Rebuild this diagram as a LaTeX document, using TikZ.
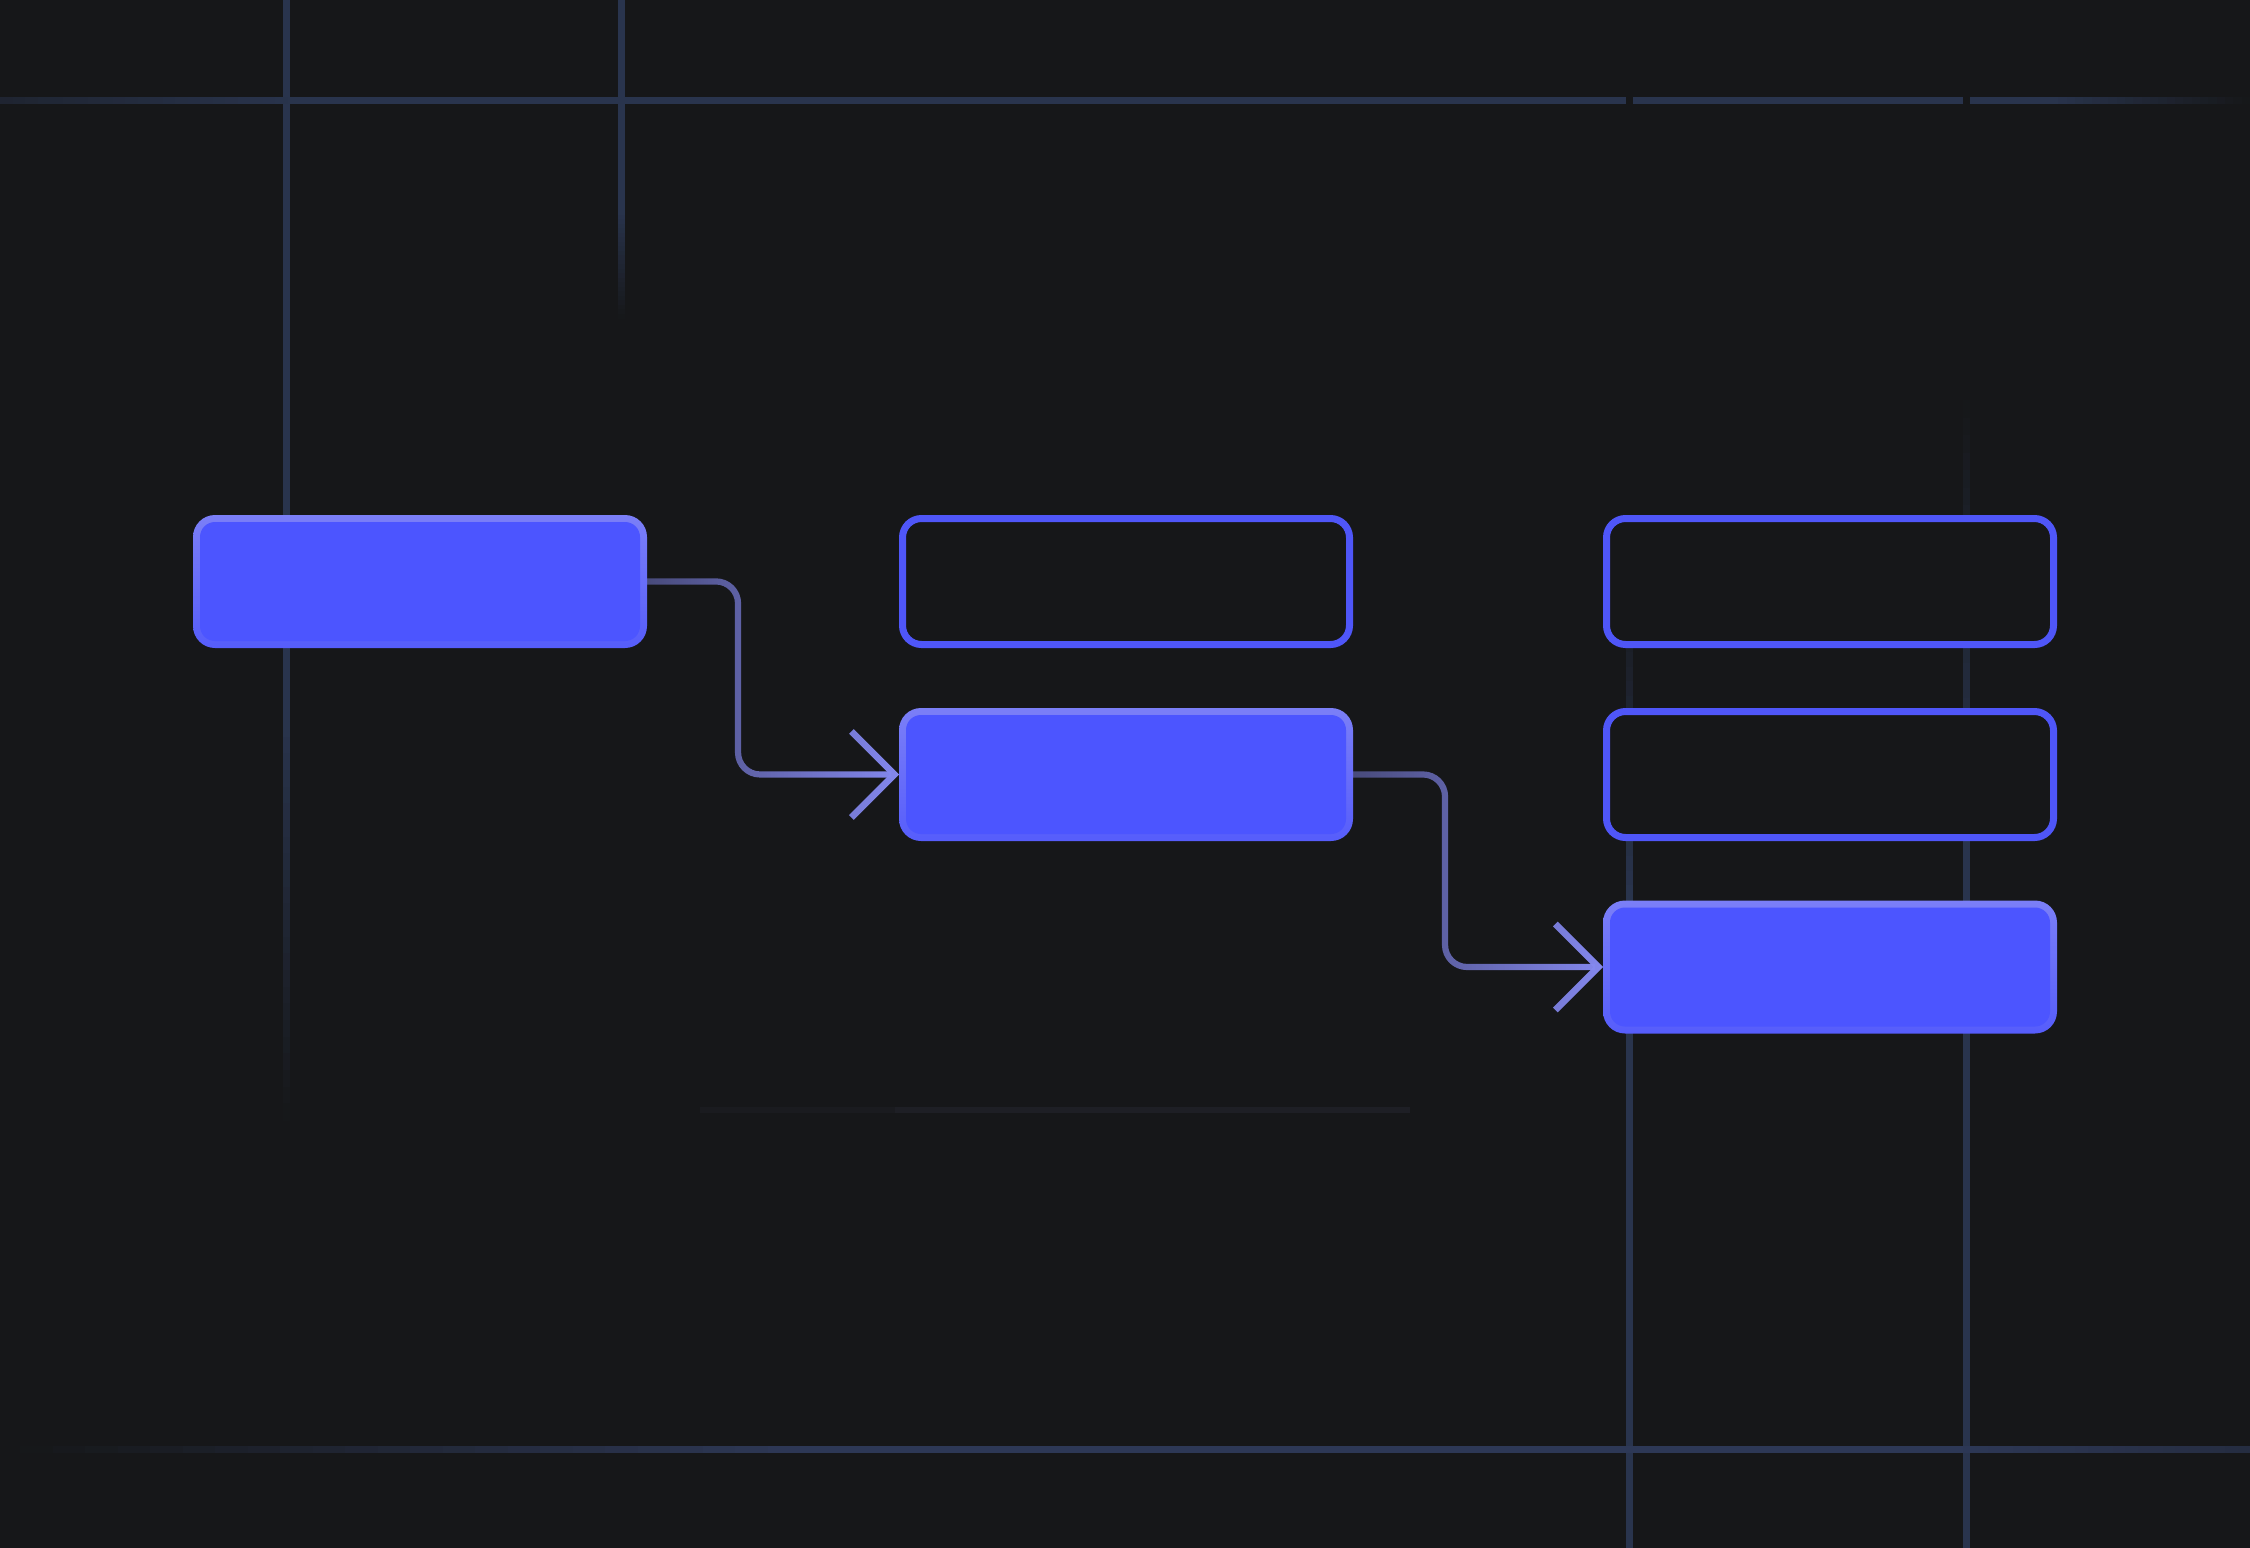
\documentclass[tikz,border=0pt]{standalone}
\usetikzlibrary{arrows.meta,fadings}
\definecolor{bg}{HTML}{161719}
\definecolor{grid}{HTML}{29344D}
\definecolor{gridb}{HTML}{2D3856}
\definecolor{boxblue}{HTML}{4C55FF}
\definecolor{boxedge}{HTML}{4F56F8}
\definecolor{edgetop}{HTML}{7B7FF7}
\definecolor{edgebot}{HTML}{565DFB}
\definecolor{conncol}{HTML}{8589F0}
\definecolor{faint}{HTML}{1E1F25}
\tikzfading[name=connfade, left color=transparent!55, right color=transparent!0]
% vertical fade: colour, x1, x2, y1, y2, start %, end %
\newcommand\myvfade[7]{\foreach \i in {0,...,23}{%
  \pgfmathsetmacro\pp{#6+(#7-#6)/24*(\i+0.5)}%
  \pgfmathsetmacro\ya{#4+(#5-#4)/24*\i}%
  \pgfmathsetmacro\yb{#4+(#5-#4)/24*(\i+1)+0.8}%
  \fill[#1!\pp!bg] (#2,\ya) rectangle (#3,\yb);}}
% horizontal fade: colour, y1, y2, x1, x2, start %, end %
\newcommand\myhfade[7]{\foreach \i in {0,...,23}{%
  \pgfmathsetmacro\pp{#6+(#7-#6)/24*(\i+0.5)}%
  \pgfmathsetmacro\xa{#4+(#5-#4)/24*\i}%
  \pgfmathsetmacro\xb{#4+(#5-#4)/24*(\i+1)+0.8}%
  \fill[#1!\pp!bg] (\xa,#2) rectangle (\xb,#3);}}
\tikzset{
  outbox/.style={draw=boxedge, line width=3.5pt, fill=bg, rounded corners=9.5pt,
    minimum width=223.5pt, minimum height=63pt, inner sep=0pt},
  fillbox/.style={top color=edgetop, bottom color=edgebot, rounded corners=11pt,
    minimum width=227pt, minimum height=66.5pt, inner sep=0pt, outer sep=0pt,
    path picture={\fill[boxblue, rounded corners=7.5pt]
      ([shift={(3.5pt,-3.5pt)}]path picture bounding box.north west) rectangle
      ([shift={(-3.5pt,3.5pt)}]path picture bounding box.south east);}},
  conn/.style={draw=conncol, line width=3.1pt, rounded corners=11pt, path fading=connfade,
    -{Straight Barb[length=21.5pt, width=43pt, line width=3.3pt, sharp]}}
}
\begin{document}
\begin{tikzpicture}[x=0.5pt,y=-0.5pt]
\fill[bg] (0,0) rectangle (2250,1548);
\useasboundingbox (0,0) rectangle (2250,1548);
\clip (0,0) rectangle (2250,1548);
% grid lines
\fill[grid] (282.5,0) rectangle (289.5,720);
\myvfade{grid}{282.5}{289.5}{720}{1120}{100}{0}
\fill[grid] (617.5,0) rectangle (624.5,210);
\myvfade{grid}{617.5}{624.5}{210}{318}{100}{0}
\myhfade{grid}{96.5}{103.5}{0}{300}{45}{100}
\fill[grid] (300,96.5) rectangle (2050,103.5);
\myhfade{grid}{96.5}{103.5}{2050}{2250}{100}{0}
\fill[bg] (1625.5,0) rectangle (1632.5,550);
\myvfade{grid}{1625.5}{1632.5}{550}{900}{0}{100}
\fill[grid] (1625.5,900) rectangle (1632.5,1548);
\fill[bg] (1962.5,0) rectangle (1969.5,400);
\myvfade{grid}{1962.5}{1969.5}{400}{820}{0}{100}
\fill[grid] (1962.5,820) rectangle (1969.5,1548);
\myhfade{gridb}{1445.5}{1452.5}{20}{800}{0}{100}
\fill[gridb] (800,1445.5) rectangle (1950,1452.5);
\myhfade{gridb}{1445.5}{1452.5}{1950}{2250}{100}{65}
\fill[faint!50!bg] (700,1107) rectangle (895,1113);
\fill[faint] (895,1107) rectangle (1410,1113);
% boxes
\node[fillbox] (b1) at (420,581.5) {};
\node[outbox]  (b2) at (1126,581.5) {};
\node[fillbox] (b3) at (1126,774.5) {};
\node[outbox]  (b4) at (1830,581.5) {};
\node[outbox]  (b5) at (1830,774.5) {};
\node[fillbox] (b6) at (1830,967) {};
% connectors
\coordinate (k1) at (738,0);
\coordinate (k2) at (1445,0);
\draw[conn] (b1.east) -- (b1.east -| k1) -- (k1 |- b3.west) -- (b3.west);
\draw[conn] (b3.east) -- (b3.east -| k2) -- (k2 |- b6.west) -- (b6.west);
\end{tikzpicture}
\end{document}
